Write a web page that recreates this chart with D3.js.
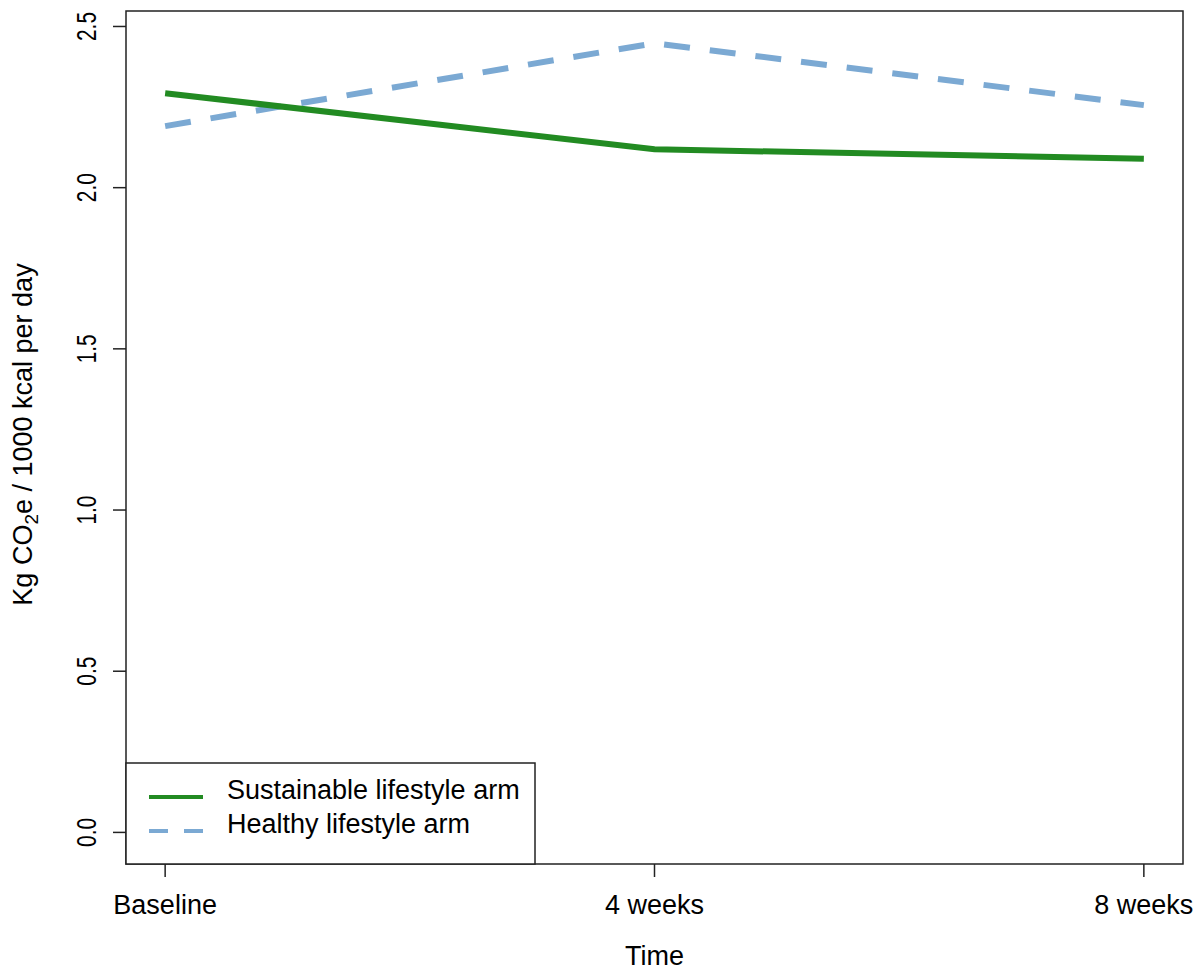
<!DOCTYPE html>
<html>
<head>
<meta charset="utf-8">
<script src="https://cdn.jsdelivr.net/npm/d3@7"></script>
<style>
  body { margin: 0; background: #fff; }
  text { font-family: "Liberation Sans", Arial, sans-serif; fill: #000; }
</style>
</head>
<body>
<div id="chart"></div>
<script>
// data
const timepoints = ["Baseline", "4 weeks", "8 weeks"];
const sustainable = [2.293, 2.119, 2.090];
const healthy = [2.191, 2.448, 2.256];
const yTicks = [0.0, 0.5, 1.0, 1.5, 2.0, 2.5];
const seriesNames = ["Sustainable lifestyle arm", "Healthy lifestyle arm"];

const width = 1198, height = 973;
const box = { left: 126, right: 1183, top: 11, bottom: 864 };
const green = "#228B22", blue = "#7BA9D3";

const svg = d3.select("#chart").append("svg")
  .attr("width", width).attr("height", height);

// R style axes: 4% padding on each end
const x = d3.scaleLinear().domain([0.92, 3.08]).range([box.left, box.right]);
const y = d3.scaleLinear().domain([-0.098, 2.548]).range([box.bottom, box.top]);

const line = d3.line().x((d, i) => x(i + 1)).y(d => y(d));

svg.append("path").datum(healthy)
  .attr("d", line).attr("fill", "none")
  .attr("stroke", blue).attr("stroke-width", 6)
  .attr("stroke-dasharray", "26,20");

svg.append("path").datum(sustainable)
  .attr("d", line).attr("fill", "none")
  .attr("stroke", green).attr("stroke-width", 6);

// plot frame
svg.append("rect")
  .attr("x", box.left).attr("y", box.top)
  .attr("width", box.right - box.left).attr("height", box.bottom - box.top)
  .attr("fill", "none").attr("stroke", "#222").attr("stroke-width", 1.5);

// y axis
const yAxis = svg.append("g");
yAxis.selectAll("line").data(yTicks).enter().append("line")
  .attr("x1", box.left - 13).attr("x2", box.left)
  .attr("y1", d => y(d)).attr("y2", d => y(d))
  .attr("stroke", "#222").attr("stroke-width", 1.5);
yAxis.selectAll("text").data(yTicks).enter().append("text")
  .attr("transform", d => `translate(96,${y(d)}) rotate(-90)`)
  .attr("text-anchor", "middle")
  .attr("font-size", 27)
  .attr("textLength", 29).attr("lengthAdjust", "spacingAndGlyphs")
  .text(d => d.toFixed(1));

// x axis
const xAxis = svg.append("g");
xAxis.selectAll("line").data(timepoints).enter().append("line")
  .attr("x1", (d, i) => x(i + 1)).attr("x2", (d, i) => x(i + 1))
  .attr("y1", box.bottom).attr("y2", box.bottom + 13)
  .attr("stroke", "#222").attr("stroke-width", 1.5);
xAxis.selectAll("text").data(timepoints).enter().append("text")
  .attr("x", (d, i) => x(i + 1)).attr("y", 914)
  .attr("text-anchor", "middle").attr("font-size", 27)
  .text(d => d);

// axis titles
svg.append("text")
  .attr("x", (box.left + box.right) / 2).attr("y", 965)
  .attr("text-anchor", "middle").attr("font-size", 27)
  .text("Time");

const yTitle = svg.append("text")
  .attr("transform", `translate(32,${(box.top + box.bottom) / 2 - 3}) rotate(-90)`)
  .attr("text-anchor", "middle").attr("font-size", 27);
yTitle.append("tspan").text("Kg CO");
yTitle.append("tspan").attr("font-size", 19).attr("dy", 6).text("2");
yTitle.append("tspan").attr("dy", -6).text("e / 1000 kcal per day");

// legend
const legend = svg.append("g");
legend.append("rect")
  .attr("x", box.left).attr("y", 763)
  .attr("width", 535 - box.left).attr("height", box.bottom - 763)
  .attr("fill", "#fff").attr("stroke", "#222").attr("stroke-width", 1.5);

const rows = [
  { name: seriesNames[0], color: green, dash: null, ly: 797, ty: 799 },
  { name: seriesNames[1], color: blue, dash: "19,16", ly: 831, ty: 833 }
];
rows.forEach(r => {
  legend.append("line")
    .attr("x1", 149).attr("x2", 203).attr("y1", r.ly).attr("y2", r.ly)
    .attr("stroke", r.color).attr("stroke-width", 4)
    .attr("stroke-dasharray", r.dash);
  legend.append("text")
    .attr("x", 227).attr("y", r.ty).attr("font-size", 27)
    .text(r.name);
});
</script>
</body>
</html>
